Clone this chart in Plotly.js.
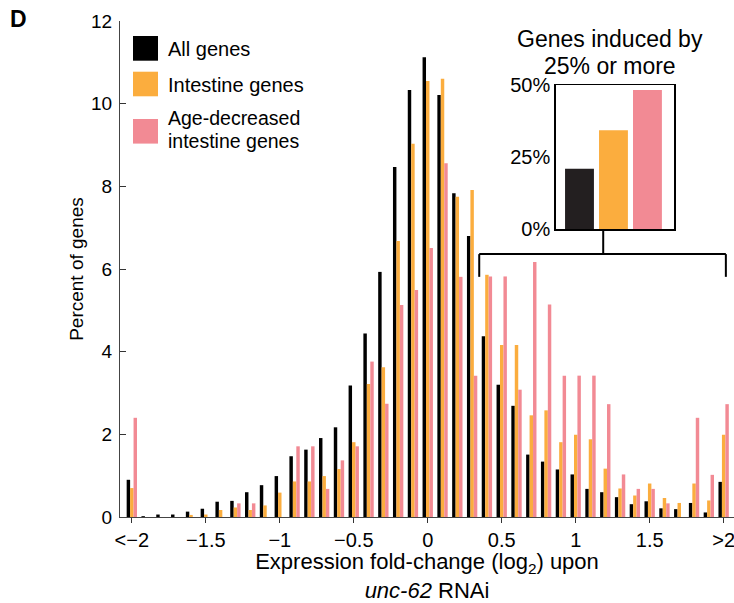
<!DOCTYPE html>
<html>
<head>
<meta charset="utf-8">
<script src="https://cdn.plot.ly/plotly-3.0.1.min.js"></script>
<style>html,body{margin:0;padding:0;background:#fff;}#chart{width:734px;height:603px;}</style>
</head>
<body>
<div id="chart"></div>
<script>
// ---------- data ----------
const bins = [-2.0,-1.9,-1.8,-1.7,-1.6,-1.5,-1.4,-1.3,-1.2,-1.1,-1.0,-0.9,-0.8,-0.7,-0.6,-0.5,-0.4,-0.3,-0.2,-0.1,
  0.0,0.1,0.2,0.3,0.4,0.5,0.6,0.7,0.8,0.9,1.0,1.1,1.2,1.3,1.4,1.5,1.6,1.7,1.8,1.9,2.0];
const allGenes = [0.90,0.02,0.06,0.06,0.13,0.20,0.37,0.39,0.60,0.77,0.99,1.47,1.63,1.91,2.17,3.18,4.44,5.93,8.47,10.33,
  11.12,10.21,7.83,6.80,4.37,3.20,2.69,1.51,1.34,1.15,1.03,0.68,0.60,0.48,0.31,0.38,0.21,0.19,0.34,0.11,0.85];
const intestineGenes = [0.70,0,0,0,0.05,0.06,0.17,0.23,0.17,0.28,0.59,0.86,0.86,0.99,1.16,1.81,3.22,3.62,6.68,9.03,
  10.55,10.60,7.75,7.91,5.86,4.16,4.16,2.46,2.58,1.81,1.99,1.88,1.17,0.69,0.52,0.81,0.46,0.34,0.81,0.40,1.99];
const ageDecreased = [2.40,0,0,0,0,0,0,0.33,0.33,0,0,1.71,1.71,0.68,1.37,1.71,3.76,2.74,5.13,5.49,
  6.51,8.56,5.81,3.42,5.82,5.82,3.08,6.17,5.14,3.42,3.42,3.42,2.73,1.03,0.68,0.68,0.33,0,2.40,1.02,2.73];
const seriesNames = ['All genes','Intestine genes','Age-decreased intestine genes'];
const xTickVals = [-2,-1.5,-1,-0.5,0,0.5,1,1.5,2];
const xTickText = ['&lt;\u22122','\u22121.5','\u22121','\u22120.5','0','0.5','1','1.5','&gt;2'];
const yTickVals = [0,2,4,6,8,10,12];
const insetValues = [21, 34.3, 48.3];      // % of genes induced by 25% or more
const insetTickVals = [0,25,50];
const insetTickText = ['0%','25%','50%'];

// ---------- styling ----------
const FONT = 'Liberation Sans, Arial, Helvetica, sans-serif';
const C_BLACK = '#000000', C_ORANGE = '#FBAD3E', C_PINK = '#F28A94';
const W = 734, H = 603, L = 120, R = 0, T = 21, B = 86;
const PW = W - L - R, PH = H - T - B;
const px = x => (x - L) / PW;
const py = y => (H - B - y) / PH;

const traces = [
  {type:'bar', x:bins, y:allGenes, name:seriesNames[0], marker:{color:C_BLACK,line:{width:0}}, xaxis:'x', yaxis:'y'},
  {type:'bar', x:bins, y:intestineGenes, name:seriesNames[1], marker:{color:C_ORANGE,line:{width:0}}, xaxis:'x', yaxis:'y'},
  {type:'bar', x:bins, y:ageDecreased, name:seriesNames[2], marker:{color:C_PINK,line:{width:0}}, xaxis:'x', yaxis:'y'},
  {type:'bar', x:seriesNames, y:insetValues, width:0.85,
   marker:{color:['#231F20',C_ORANGE,C_PINK],line:{width:0}}, xaxis:'x2', yaxis:'y2', showlegend:false}
];

const legendSq = [[36,60.7,C_BLACK],[71.7,96.3,C_ORANGE],[119,143.6,C_PINK]];
const shapes = legendSq.map(s => ({type:'rect', xref:'paper', yref:'paper',
  x0:px(133), x1:px(158), y0:py(s[1]), y1:py(s[0]), fillcolor:s[2], line:{width:0}}));
// bracket linking the inset to the bins >= log2(1.25)
const brk = {color:'#000', width:2};
shapes.push({type:'line', xref:'x', yref:'y', x0:0.348, x1:2.015, y0:6.36, y1:6.36, line:brk});
shapes.push({type:'line', xref:'x', yref:'y', x0:0.348, x1:0.348, y0:6.36, y1:5.81, line:brk});
shapes.push({type:'line', xref:'x', yref:'y', x0:2.015, x1:2.015, y0:6.36, y1:5.81, line:brk});
shapes.push({type:'line', xref:'x', yref:'y', x0:1.186, x1:1.186, y0:6.36, y1:6.96, line:brk});

const ann = (text, x, y, size, xanchor, extra) => Object.assign({text, xref:'paper', yref:'paper',
  x:px(x), y:py(y), xanchor, yanchor:'middle', showarrow:false, font:{family:FONT, size, color:'#000'}}, extra||{});
const annotations = [
  ann('All genes', 166, 49, 20, 'left'),
  ann('Intestine genes', 166, 84.5, 20, 'left'),
  ann('Age-decreased', 166, 118.5, 19.5, 'left'),
  ann('intestine genes', 166, 140.5, 19.5, 'left'),
  ann('Genes induced by', 610, 39, 23, 'center'),
  ann('25% or more', 610, 66, 23, 'center'),
  ann('<b>D</b>', 8, 19, 23, 'left')
];

const layout = {
  width:W, height:H, margin:{l:L, r:R, t:T, b:B, pad:0},
  paper_bgcolor:'#fff', plot_bgcolor:'rgba(0,0,0,0)',
  font:{family:FONT, color:'#000'},
  showlegend:false, barmode:'group', bargap:0.3, bargroupgap:0,
  xaxis:{domain:[0,1], range:[-2.08, 2.07], tickvals:xTickVals, ticktext:xTickText, ticklabeloverflow:'allow',
    ticks:'outside', ticklen:5, tickwidth:1, tickcolor:'#333', showline:true, linecolor:'#444', linewidth:1,
    showgrid:false, zeroline:false, tickfont:{size:20}, anchor:'y',
    title:{text:'Expression fold-change (log<sub>2</sub>) upon<br><i>unc-62</i> RNAi', font:{size:22}, standoff:9}},
  yaxis:{domain:[0,1], range:[0,12], tickvals:yTickVals, ticks:'inside', ticklen:6, tickwidth:1, tickcolor:'#333',
    showline:true, linecolor:'#444', linewidth:1, showgrid:false, zeroline:false, tickfont:{size:19},
    ticklabelstandoff:3, anchor:'x',
    title:{text:'Percent of genes', font:{size:19}, standoff:2}},
  yaxis3:{overlaying:'y', side:'right', anchor:'x', range:[0,12], tickvals:yTickVals, ticks:'inside', ticklen:5,
    tickcolor:'#333', showticklabels:false, showline:false, showgrid:false, zeroline:false},
  xaxis2:{domain:[px(555.7), px(674.3)], anchor:'y2', range:[-0.7, 2.79], showticklabels:false, ticks:'',
    showline:true, mirror:true, linecolor:'#000', linewidth:1.5, showgrid:false, zeroline:false},
  yaxis2:{domain:[py(229.3), py(85)], anchor:'x2', range:[0,50], tickvals:insetTickVals, ticktext:insetTickText,
    ticks:'', showline:true, mirror:true, linecolor:'#000', linewidth:1.5, showgrid:false, zeroline:false,
    tickfont:{size:20}, ticklabelstandoff:0},
  shapes, annotations
};

Plotly.newPlot('chart', traces, layout, {displayModeBar:false, staticPlot:true});
</script>
</body>
</html>
